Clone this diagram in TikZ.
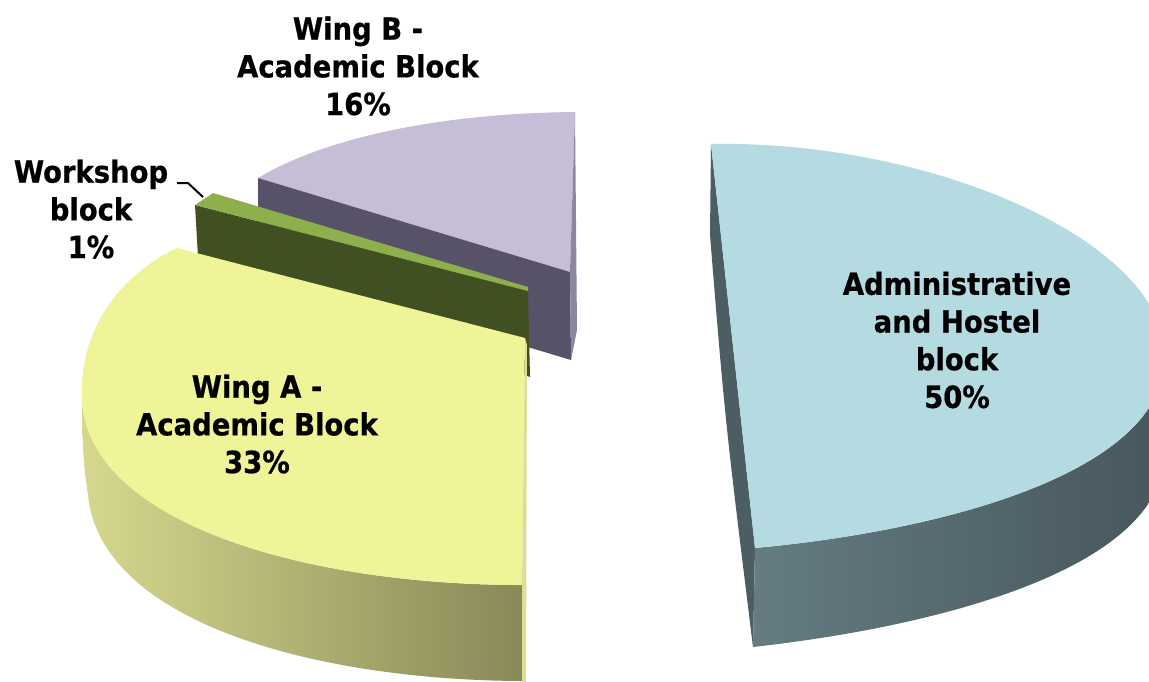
\documentclass[tikz,border=0pt]{standalone}
\usepackage{fontspec}
\newfontfamily\lblfont{DejaVu Sans Condensed Bold}[FakeBold=0.6]
\definecolor{wbtop}{RGB}{198,189,214}
\definecolor{wbside}{RGB}{88,82,104}
\definecolor{wbcut}{RGB}{140,134,160}
\definecolor{wstop}{RGB}{141,176,76}
\definecolor{wsside}{RGB}{64,80,32}
\definecolor{watop}{RGB}{240,244,152}
\definecolor{wasideL}{RGB}{214,216,142}
\definecolor{wasideR}{RGB}{136,137,88}
\definecolor{wacut}{RGB}{220,222,150}
\definecolor{adtop}{RGB}{180,218,226}
\definecolor{adsideL}{RGB}{100,124,130}
\definecolor{adsideR}{RGB}{70,86,92}
\definecolor{adcut}{RGB}{76,94,100}
\begin{document}
\begin{tikzpicture}[x=1pt,y=-1pt,
  lbl/.style={font=\lblfont\fontsize{30.5}{37.7}\selectfont, align=center, inner sep=0pt, text=black},
  leader/.style={draw=black, line width=2pt}]
\useasboundingbox (0,0) rectangle (1149,681);
\clip (0,0) rectangle (1149,681);
\fill[white] (0,0) rectangle (1149,681);

% Wing B (back slice)
\fill[wbtop] (258,178) .. controls (330,135) and (450,113) .. (575,112) -- (570,272) -- cycle;
\fill[wbside] (258,178) -- (570,272) -- (571,360) -- (258,266) -- cycle;
\fill[wbcut] (575,112) -- (577,330) -- (571,360) -- (570,272) -- cycle;

% Workshop slice
\fill[wsside] (195,205) -- (528,291) -- (530,377) -- (198,257) -- cycle;
\fill[wstop] (195,205) -- (213,193) -- (528,287) -- (528,291) -- cycle;

% Wing A slice
\shade[left color=wasideL, right color=wasideR]
  (82,395) .. controls (82,520) and (300,585) .. (522,585) -- (522,690)
  -- (522,681) .. controls (310,680) and (100,620) .. (88,495)
  .. controls (83,460) .. (82,395) -- cycle;
\fill[watop] (177,248) -- (525,338) -- (522,585)
  .. controls (300,585) and (82,520) .. (82,395)
  .. controls (80,320) and (130,270) .. (177,248) -- cycle;
\fill[wacut] (525,338) -- (527,345) -- (526,690) -- (522,690) -- (522,585) -- cycle;

% Administrative slice
\fill[adcut] (711,144) -- (755,548) -- (753,647) .. controls (725,420) .. (710,235) -- cycle;
\shade[left color=adsideL, right color=adsideR]
  (1165,355) .. controls (1167,470) and (950,530) .. (755,548) -- (753,647)
  .. controls (950,625) and (1167,565) .. (1165,450) -- cycle;
\fill[adtop] (711,144) .. controls (930,140) and (1163,240) .. (1165,355)
  .. controls (1167,470) and (950,530) .. (755,548) -- cycle;

% Labels
\node[lbl] (lWB) at (358,66) {Wing B -\\Academic Block\\16\%};
\node[lbl] (lWS) at (91,209) {Workshop\\block\\1\%};
\node[lbl] (lWA) at (257,424) {Wing A -\\Academic Block\\33\%};
\node[lbl] (lAD) at (957,340) {Administrative\\and Hostel\\block\\50\%};

% Leader line for the workshop label
\coordinate (wsA) at (177,183);
\coordinate (wsB) at (188,183);
\coordinate (wsTip) at (203,197);
\draw[leader] (wsA) -- (wsB) -- (wsTip);
\end{tikzpicture}
\end{document}
